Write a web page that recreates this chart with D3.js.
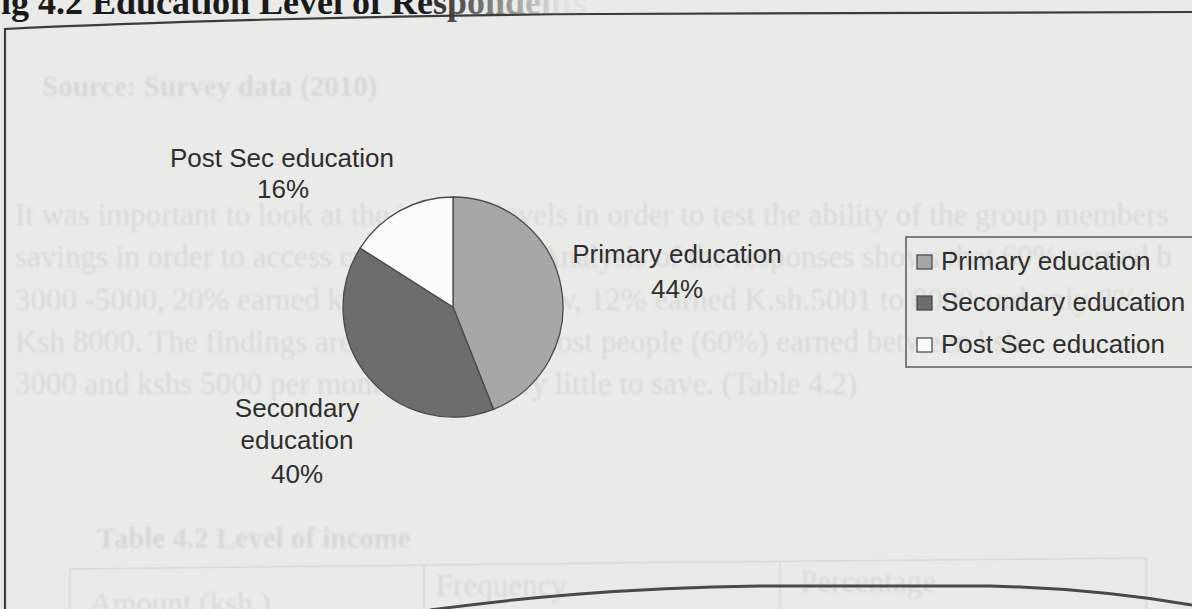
<!DOCTYPE html>
<html>
<head>
<meta charset="utf-8">
<script src="https://cdn.jsdelivr.net/npm/d3@7"></script>
<style>
  body { margin: 0; background: #eaeae8; }
  svg { display: block; }
</style>
</head>
<body>
<svg id="chart" width="1192" height="609"></svg>
<script>
// data
const categories = ["Primary education", "Secondary education", "Post Sec education"];
const shares = [44, 40, 16];
const sliceColors = ["#a7a7a5", "#6d6d6b", "#fafaf8"];

// faint text showing through from the scanned page
const ghostLines = [
  "It was important to look at the income levels in order to test the ability of the group members",
  "savings in order to access credit facilities. Analysis of the responses shows that 60% earned b",
  "3000 -5000, 20% earned ksh.3000 and below, 12% earned K.sh.5001 to 8000 and only 8% e",
  "Ksh 8000. The findings are evidence that most people (60%) earned between ksh",
  "3000 and kshs 5000 per month, hence very little to save. (Table 4.2)"
];
const tableHeads = ["Amount (ksh.)", "Frequency", "Percentage"];

const svg = d3.select("#chart");

const defs = svg.append("defs");
defs.append("filter").attr("id", "soft")
  .append("feGaussianBlur").attr("stdDeviation", 1);
const fade = defs.append("linearGradient").attr("id", "fade")
  .attr("gradientUnits", "userSpaceOnUse")
  .attr("x1", 420).attr("x2", 560).attr("y1", 0).attr("y2", 0);
fade.append("stop").attr("offset", 0).attr("stop-color", "#1a1a1a");
fade.append("stop").attr("offset", 1).attr("stop-color", "#e2e2e0");

// ghost text first so everything sits on top of it
const ghost = svg.append("g")
  .attr("fill", "#d7d7d5")
  .attr("filter", "url(#soft)")
  .style("font-family", "Liberation Serif, serif")
  .style("font-size", "31px");

ghost.append("text").attr("x", 42).attr("y", 96)
  .style("font-weight", "bold").style("font-size", "29px")
  .text("Source: Survey data (2010)");

ghost.selectAll("text.body")
  .data(ghostLines)
  .join("text")
  .attr("class", "body")
  .attr("x", 15)
  .attr("y", (d, i) => 225 + i * 42.3)
  .text(d => d);

ghost.append("text").attr("x", 97).attr("y", 548)
  .style("font-weight", "bold").style("font-size", "29px")
  .text("Table 4.2 Level of income");

const headX = [90, 436, 800], headY = [614, 596, 592];
ghost.selectAll("text.head")
  .data(tableHeads)
  .join("text")
  .attr("class", "head")
  .attr("x", (d, i) => headX[i])
  .attr("y", (d, i) => headY[i])
  .text(d => d);

const tableLines = svg.append("g").attr("stroke", "#d8d8d6").attr("stroke-width", 1.5).attr("fill", "none");
tableLines.append("path").attr("d", "M70,569 C400,566 800,560 1146,558");
[70, 424, 780, 1146].forEach((x, i) => {
  tableLines.append("line").attr("x1", x).attr("x2", x).attr("y1", 569 - i * 3.7).attr("y2", 609);
});

// title (cut off at the top of the scan)
svg.append("text")
  .attr("x", -21)
  .attr("y", 14)
  .style("font-family", "Liberation Serif, serif")
  .style("font-weight", "bold")
  .style("font-size", "36px")
  .attr("fill", "url(#fade)")
  .text("Fig 4.2 Education Level of Respondents");

// chart frame
const frame = svg.append("g").attr("fill", "none").attr("stroke", "#3c3c3c").attr("stroke-width", 2.2);
frame.append("path").attr("d", "M5,29 C150,22 400,15 600,14 L1192,12");
frame.append("path").attr("d", "M5,28 L5,609");
frame.append("path").attr("stroke", "#4a4a4a").attr("stroke-width", 3)
  .attr("d", "M430,610 C520,598 620,588 760,586 L990,586 C1080,588 1150,598 1192,605");

// pie
const cx = 453, cy = 307, radius = 110;
const pie = d3.pie().sort(null).value(d => d);
const arc = d3.arc().innerRadius(0).outerRadius(radius);
const arcs = pie(shares);

const g = svg.append("g").attr("transform", `translate(${cx},${cy})`);
g.selectAll("path")
  .data(arcs)
  .join("path")
  .attr("d", arc)
  .attr("fill", (d, i) => sliceColors[i])
  .attr("stroke", "#4a4a4a")
  .attr("stroke-width", 1.3);

// slice labels
const labelFont = "Liberation Sans, Arial, sans-serif";
const labelPos = [
  { lines: [categories[0], shares[0] + "%"], x: [677, 677], y: [263, 298] },
  { lines: ["Secondary", "education", shares[1] + "%"], x: [297, 297, 297], y: [417, 449, 483] },
  { lines: [categories[2], shares[2] + "%"], x: [282, 283], y: [167, 198] }
];

labelPos.forEach(p => {
  p.lines.forEach((t, j) => {
    svg.append("text")
      .attr("x", p.x[j])
      .attr("y", p.y[j])
      .attr("text-anchor", "middle")
      .style("font-family", labelFont)
      .style("font-size", "26px")
      .attr("fill", "#2e2e2e")
      .text(t);
  });
});

// legend
const legend = svg.append("g").attr("transform", "translate(906,237)");
legend.append("rect")
  .attr("width", 300).attr("height", 130)
  .attr("fill", "none").attr("stroke", "#5a5a5a").attr("stroke-width", 1.5);

const itemY = [33, 74, 116];
const item = legend.selectAll("g.item")
  .data(categories)
  .join("g")
  .attr("class", "item")
  .attr("transform", (d, i) => `translate(0,${itemY[i]})`);

item.append("rect")
  .attr("x", 11).attr("y", -15)
  .attr("width", 15).attr("height", 14)
  .attr("fill", (d, i) => sliceColors[i])
  .attr("stroke", "#444").attr("stroke-width", 1.2);

item.append("text")
  .attr("x", 35)
  .attr("y", 0)
  .style("font-family", labelFont)
  .style("font-size", "26px")
  .attr("fill", "#2e2e2e")
  .text(d => d);
</script>
</body>
</html>
